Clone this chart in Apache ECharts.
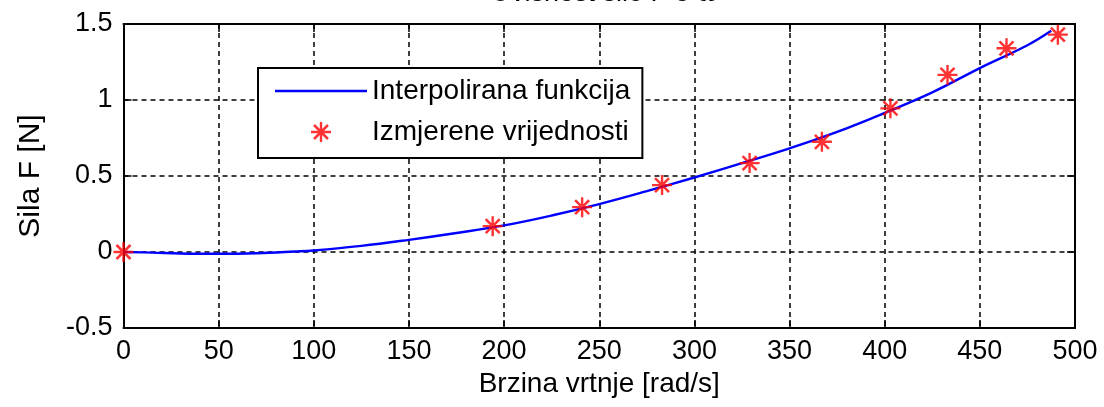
<!DOCTYPE html>
<html>
<head>
<meta charset="utf-8">
<script src="https://cdn.jsdelivr.net/npm/echarts@6/dist/echarts.min.js"></script>
<style>html,body{margin:0;padding:0;background:#fff;}#c{width:1104px;height:407px;}</style>
</head>
<body>
<div id="c"></div>
<script>
// Data
const titleText = 'Ovisnost sile F o ω';
const xName = 'Brzina vrtnje [rad/s]';
const yName = 'Sila F [N]';
const seriesNames = ['Interpolirana funkcija', 'Izmjerene vrijednosti'];

// measured points
const measW = [0, 194, 241, 283, 329, 367, 403, 433, 464, 491];
const measF = [0, 0.17, 0.295, 0.44, 0.585, 0.725, 0.945, 1.165, 1.34, 1.43];

// interpolated curve
const curveW = [0, 15, 30, 50, 70, 90, 100, 125, 150, 175, 200, 225, 250, 275, 300, 325, 350, 375, 400, 425, 450, 475, 487.5];
const curveF = [0, -0.004, -0.01, -0.012, -0.008, 0.003, 0.01, 0.04, 0.08, 0.125, 0.175, 0.24, 0.315, 0.4, 0.49, 0.585, 0.682, 0.79, 0.915, 1.05, 1.21, 1.36, 1.455];

const xMin = 0, xMax = 500, xStep = 50;
const yMin = -0.5, yMax = 1.5, yStep = 0.5;

const starPath = 'path://M-1.2,-10L1.2,-10L1.2,10L-1.2,10Z M-10,-1.2L10,-1.2L10,1.2L-10,1.2Z M-7.9,-6.1L-6.1,-7.9L7.9,6.1L6.1,7.9Z M6.1,-7.9L7.9,-6.1L-6.1,7.9L-7.9,6.1Z';

const FONT = 'Liberation Sans';
const chart = echarts.init(document.getElementById('c'), null, {renderer: 'canvas'});

const tickStyle = {show: true, inside: true, length: 8, lineStyle: {color: '#000', width: 1.5}};
const axisLineStyle = {show: true, onZero: false, lineStyle: {color: '#000', width: 2}};
const gridLine = {show: true, lineStyle: {color: '#000', width: 1.5, type: [5, 4]}};

chart.setOption({
  backgroundColor: '#fff',
  animation: false,
  title: {
    text: titleText, left: 599, top: -25, textAlign: 'center',
    textStyle: {fontFamily: FONT, fontSize: 27, fontWeight: 'normal', color: '#000'}
  },
  grid: {left: 123.5, right: 29, top: 24, bottom: 79, show: false},
  legend: {
    orient: 'vertical', left: 258, top: 68,
    padding: [8, 12, 11, 17],
    itemWidth: 92, itemHeight: 20, itemGap: 11,
    backgroundColor: '#fff', borderColor: '#000', borderWidth: 2, borderRadius: 0,
    textStyle: {fontFamily: FONT, fontSize: 28, color: '#000', lineHeight: 30},
    data: [
      {name: seriesNames[0], icon: 'path://M0,0L92,0L92,2.4L0,2.4Z', itemStyle: {color: '#0000ff'}},
      {name: seriesNames[1]}
    ]
  },
  xAxis: [{
    type: 'value', min: xMin, max: xMax, interval: xStep,
    name: xName, nameLocation: 'middle', nameGap: 34,
    nameTextStyle: {fontFamily: FONT, fontSize: 28, color: '#000'},
    axisLine: axisLineStyle, axisTick: tickStyle, splitLine: gridLine,
    axisLabel: {fontFamily: FONT, fontSize: 27, color: '#000', margin: 10}
  }, {
    type: 'value', position: 'top', min: xMin, max: xMax, interval: xStep,
    axisLine: axisLineStyle, axisTick: tickStyle, splitLine: {show: false},
    axisLabel: {show: false}
  }],
  yAxis: [{
    type: 'value', min: yMin, max: yMax, interval: yStep,
    name: yName, nameLocation: 'middle', nameGap: 78,
    nameTextStyle: {fontFamily: FONT, fontSize: 30, color: '#000'},
    axisLine: axisLineStyle, axisTick: tickStyle, splitLine: gridLine,
    axisLabel: {fontFamily: FONT, fontSize: 27, color: '#000', margin: 11}
  }, {
    type: 'value', position: 'right', min: yMin, max: yMax, interval: yStep,
    axisLine: axisLineStyle, axisTick: tickStyle, splitLine: {show: false},
    axisLabel: {show: false}
  }],
  series: [{
    name: seriesNames[0], type: 'line', smooth: 0.4, showSymbol: false, symbol: 'none',
    data: curveW.map((w, i) => [w, curveF[i]]),
    lineStyle: {color: '#0000ff', width: 2.4},
    itemStyle: {color: '#0000ff'}, z: 3
  }, {
    name: seriesNames[1], type: 'scatter', symbol: starPath, symbolSize: 20,
    data: measW.map((w, i) => [w, measF[i]]),
    itemStyle: {color: '#ff0000'}, z: 4
  }]
});
</script>
</body>
</html>
